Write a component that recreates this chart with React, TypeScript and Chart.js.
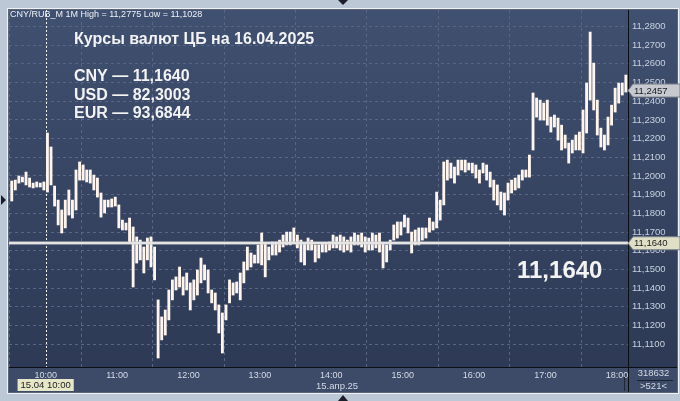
import React, { useEffect, useRef } from "react";
import { Chart, registerables } from "chart.js";

Chart.register(...registerables);

const FONT = "'Liberation Sans', Arial, sans-serif";

// 3-minute bars from 09:30 (minutes since midnight)
const START_MINUTE = 570;
const BAR_MINUTES = 3;

const HIGH = [
  11.1973, 11.1978, 11.2000, 11.1994, 11.2021, 11.1989, 11.1962, 11.1968, 11.1962, 11.1968,
  11.2230, 11.2155, 11.1946, 11.1871, 11.1818, 11.1871, 11.1925, 11.1871, 11.2032, 11.2075,
  11.2059, 11.2032, 11.2032, 11.2005, 11.1989, 11.1909, 11.1871, 11.1871, 11.1877, 11.1887,
  11.1845, 11.1764, 11.1748, 11.1775, 11.1727, 11.1674, 11.1657, 11.1620, 11.1668, 11.1674,
  11.1620, 11.1337, 11.1246, 11.1283, 11.1390, 11.1444, 11.1460, 11.1513, 11.1460, 11.1481,
  11.1428, 11.1444, 11.1497, 11.1561, 11.1524, 11.1497, 11.1390, 11.1374, 11.1310, 11.1267,
  11.1310, 11.1444, 11.1428, 11.1433, 11.1481, 11.1540, 11.1620, 11.1588, 11.1577, 11.1631,
  11.1695, 11.1641, 11.1620, 11.1647, 11.1647, 11.1657, 11.1684, 11.1700, 11.1700, 11.1722,
  11.1684, 11.1657, 11.1641, 11.1668, 11.1657, 11.1631, 11.1631, 11.1641, 11.1641, 11.1647,
  11.1684, 11.1674, 11.1684, 11.1674, 11.1657, 11.1674, 11.1695, 11.1684, 11.1695, 11.1674,
  11.1668, 11.1695, 11.1684, 11.1695, 11.1641, 11.1631, 11.1657, 11.1738, 11.1754, 11.1754,
  11.1791, 11.1775, 11.1700, 11.1711, 11.1722, 11.1722, 11.1722, 11.1775, 11.1754, 11.1914,
  11.1871, 11.2075, 11.2085, 11.2069, 11.2048, 11.2085, 11.2085, 11.2085, 11.2069, 11.2069,
  11.2059, 11.2032, 11.2069, 11.2059, 11.2021, 11.1978, 11.1952, 11.1914, 11.1909, 11.1962,
  11.1978, 11.1989, 11.2005, 11.2032, 11.2032, 11.2112, 11.2444, 11.2417, 11.2406, 11.2390,
  11.2406, 11.2315, 11.2326, 11.2310, 11.2272, 11.2219, 11.2176, 11.2192, 11.2219, 11.2235,
  11.2353, 11.2497, 11.2770, 11.2604, 11.2406, 11.2256, 11.2219, 11.2315, 11.2379, 11.2470,
  11.2497, 11.2497, 11.2540,
];

const LOW = [
  11.1866, 11.1925, 11.1962, 11.1968, 11.1952, 11.1941, 11.1936, 11.1941, 11.1941, 11.1925,
  11.1914, 11.1952, 11.1839, 11.1738, 11.1695, 11.1722, 11.1791, 11.1775, 11.1818, 11.1978,
  11.1978, 11.1968, 11.1962, 11.1925, 11.1887, 11.1780, 11.1802, 11.1834, 11.1834, 11.1839,
  11.1722, 11.1711, 11.1711, 11.1647, 11.1406, 11.1534, 11.1551, 11.1481, 11.1551, 11.1513,
  11.1444, 11.1026, 11.1123, 11.1149, 11.1230, 11.1337, 11.1390, 11.1406, 11.1363, 11.1390,
  11.1283, 11.1337, 11.1363, 11.1428, 11.1444, 11.1374, 11.1321, 11.1283, 11.1160, 11.1053,
  11.1230, 11.1321, 11.1363, 11.1374, 11.1337, 11.1428, 11.1497, 11.1513, 11.1534, 11.1534,
  11.1524, 11.1460, 11.1551, 11.1577, 11.1577, 11.1593, 11.1620, 11.1631, 11.1631, 11.1647,
  11.1615, 11.1540, 11.1524, 11.1604, 11.1604, 11.1540, 11.1561, 11.1593, 11.1593, 11.1604,
  11.1615, 11.1615, 11.1604, 11.1593, 11.1604, 11.1593, 11.1631, 11.1631, 11.1620, 11.1593,
  11.1604, 11.1604, 11.1615, 11.1593, 11.1508, 11.1540, 11.1604, 11.1657, 11.1668, 11.1684,
  11.1727, 11.1695, 11.1588, 11.1631, 11.1631, 11.1657, 11.1668, 11.1700, 11.1711, 11.1722,
  11.1764, 11.1845, 11.1978, 11.1989, 11.1962, 11.2005, 11.2032, 11.2021, 11.2032, 11.2016,
  11.1989, 11.1962, 11.2016, 11.1978, 11.1941, 11.1871, 11.1845, 11.1818, 11.1791, 11.1871,
  11.1909, 11.1925, 11.1936, 11.1978, 11.1994, 11.1994, 11.2139, 11.2315, 11.2299, 11.2299,
  11.2272, 11.2235, 11.2262, 11.2192, 11.2139, 11.2149, 11.2069, 11.2123, 11.2139, 11.2139,
  11.2123, 11.2230, 11.2406, 11.2353, 11.2219, 11.2155, 11.2139, 11.2166, 11.2272, 11.2342,
  11.2390, 11.2433, 11.2449,
];

const HOUR_TICKS = [600, 660, 720, 780, 840, 900, 960, 1020, 1080];
const PRICE_TICKS = [
  11.11, 11.12, 11.13, 11.14, 11.15, 11.16, 11.17, 11.18, 11.19,
  11.2, 11.21, 11.22, 11.23, 11.24, 11.25, 11.26, 11.27, 11.28,
];
const VIEW_MIN = 569.2;
const VIEW_MAX = 1089.3;
const Y_MIN = 11.0978;
const Y_MAX = 11.2888;
const CURSOR_MINUTE = 600;
const CB_RATE = 11.164;
const LAST_PRICE = 11.2457;

const HEADER = "CNY/RUB_M 1M High = 11,2775 Low = 11,1028";
const TITLE = "Курсы валют ЦБ на 16.04.2025";
const RATE_LINES = ["CNY — 11,1640", "USD — 82,3003", "EUR — 93,6844"];
const BIG_LABEL = "11,1640";
const CURSOR_LABEL = "15.04 10:00";
const DATE_LABEL = "15.апр.25";
const COUNT_TOP = "318632";
const COUNT_BOTTOM = ">521<";

const fmtPrice = (v: number) => v.toFixed(4).replace(".", ",");

function priceTag(ctx: CanvasRenderingContext2D, x0: number, x1: number, yc: number, text: string, fill: string) {
  const h = 13;
  ctx.beginPath();
  ctx.moveTo(x0, yc);
  ctx.lineTo(x0 + 5, yc - h / 2);
  ctx.lineTo(x1, yc - h / 2);
  ctx.lineTo(x1, yc + h / 2);
  ctx.lineTo(x0 + 5, yc + h / 2);
  ctx.closePath();
  ctx.fillStyle = fill;
  ctx.fill();
  ctx.strokeStyle = "#7a808a";
  ctx.lineWidth = 1;
  ctx.stroke();
  ctx.fillStyle = "#1c1c1c";
  ctx.font = `9.5px ${FONT}`;
  ctx.textAlign = "left";
  ctx.textBaseline = "middle";
  ctx.fillText(text, x0 + 6, yc + 0.5);
}

const framePlugin = {
  id: "frame",
  beforeDraw(chart: any) {
    const { ctx, chartArea: a, width, height } = chart;
    const xs = chart.scales.x;
    const ys = chart.scales.y;
    ctx.save();
    ctx.fillStyle = "#bdc8d6";
    ctx.fillRect(0, 0, width, height);
    const left = a.left;
    const right = ys.right;
    const top = a.top;
    const bottom = xs.bottom;
    const g = ctx.createLinearGradient(0, top, 0, bottom);
    g.addColorStop(0, "#405070");
    g.addColorStop(1, "#2c3853");
    ctx.fillStyle = g;
    ctx.fillRect(left, top, right - left, bottom - top);
    ctx.fillStyle = "#3d4b68";
    ctx.fillRect(left, xs.top, right - left, bottom - xs.top);
    ctx.strokeStyle = "#5c6676";
    ctx.lineWidth = 1;
    ctx.strokeRect(left - 0.5, top - 0.5, right - left + 1, bottom - top + 1);
    ctx.strokeStyle = "#eef2f7";
    ctx.strokeRect(left - 1.5, top - 1.5, right - left + 3, bottom - top + 3);
    // small triangles on the frame
    ctx.fillStyle = "#1a1f2a";
    const ty = 200;
    ctx.beginPath();
    ctx.moveTo(1, ty - 5);
    ctx.lineTo(6, ty);
    ctx.lineTo(1, ty + 5);
    ctx.fill();
    ctx.beginPath();
    ctx.moveTo(338, 0);
    ctx.lineTo(348, 0);
    ctx.lineTo(343, 5);
    ctx.fill();
    ctx.beginPath();
    ctx.moveTo(338, 401);
    ctx.lineTo(348, 401);
    ctx.lineTo(343, 395);
    ctx.fill();
    ctx.restore();
  },
  afterDatasetsDraw(chart: any) {
    const { ctx, chartArea: a } = chart;
    const xs = chart.scales.x;
    const ys = chart.scales.y;
    ctx.save();
    // cursor line at 10:00
    const cx = Math.round(xs.getPixelForValue(CURSOR_MINUTE)) + 0.5;
    ctx.strokeStyle = "#f2f2f2";
    ctx.setLineDash([2, 2]);
    ctx.lineWidth = 1;
    ctx.beginPath();
    ctx.moveTo(cx, a.top);
    ctx.lineTo(cx, a.bottom);
    ctx.stroke();
    ctx.setLineDash([]);
    // CB rate line
    const ry = Math.round(ys.getPixelForValue(CB_RATE));
    ctx.fillStyle = "#c9c9c9";
    ctx.fillRect(a.left, ry - 1.5, a.right - a.left, 3);
    ctx.fillStyle = "#ffffff";
    ctx.fillRect(a.left, ry - 0.5, a.right - a.left, 1);
    ctx.restore();
  },
  afterDraw(chart: any) {
    const { ctx, chartArea: a } = chart;
    const xs = chart.scales.x;
    const ys = chart.scales.y;
    ctx.save();
    // separating axis lines
    ctx.strokeStyle = "#0b0e14";
    ctx.lineWidth = 1;
    ctx.beginPath();
    ctx.moveTo(Math.round(a.right) + 0.5, a.top);
    ctx.lineTo(Math.round(a.right) + 0.5, xs.bottom);
    ctx.moveTo(a.left, Math.round(a.bottom) + 0.5);
    ctx.lineTo(ys.right, Math.round(a.bottom) + 0.5);
    ctx.stroke();
    ctx.strokeStyle = "#1e2636";
    ctx.beginPath();
    ctx.moveTo(Math.round(a.right) - 3.5, xs.top + 10);
    ctx.lineTo(Math.round(a.right) - 3.5, xs.bottom - 1);
    ctx.stroke();

    // header and captions
    ctx.textAlign = "left";
    ctx.textBaseline = "middle";
    ctx.fillStyle = "#eef1f6";
    ctx.font = `9px ${FONT}`;
    ctx.fillText(HEADER, a.left + 1, a.top + 5);

    ctx.fillStyle = "#f3f3f3";
    ctx.font = `bold 16px ${FONT}`;
    ctx.fillText(TITLE, 74, 40);
    const rows = [77, 96, 114];
    RATE_LINES.forEach((t, i) => ctx.fillText(t, 74, rows[i]));

    ctx.font = `bold 24px ${FONT}`;
    ctx.fillText(BIG_LABEL, 517, 271);

    // price tags on the right axis
    priceTag(ctx, a.right, ys.right + 3, ys.getPixelForValue(LAST_PRICE), fmtPrice(LAST_PRICE), "#c6cad0");
    priceTag(ctx, a.right, ys.right + 3, ys.getPixelForValue(CB_RATE), fmtPrice(CB_RATE), "#dedfc6");

    // cursor date box
    const cx = xs.getPixelForValue(CURSOR_MINUTE);
    ctx.font = `9.5px ${FONT}`;
    const w = ctx.measureText(CURSOR_LABEL).width + 6;
    ctx.fillStyle = "#e6e6c8";
    ctx.fillRect(cx - w / 2, 379, w, 12);
    ctx.fillStyle = "#1c1c1c";
    ctx.textAlign = "center";
    ctx.fillText(CURSOR_LABEL, cx, 385.5);

    ctx.fillStyle = "#d3d9e5";
    ctx.textAlign = "left";
    ctx.fillText(DATE_LABEL, 316, 386);

    // counters in the bottom right corner
    const mid = (a.right + ys.right) / 2 + 1;
    ctx.textAlign = "center";
    ctx.fillText(COUNT_TOP, mid, 373);
    ctx.fillText(COUNT_BOTTOM, mid, 386);
    ctx.strokeStyle = "#1b2230";
    ctx.beginPath();
    ctx.moveTo(a.right + 9, 380.5);
    ctx.lineTo(ys.right - 4, 380.5);
    ctx.stroke();
    ctx.restore();
  },
};

export default function App() {
  const ref = useRef<HTMLCanvasElement>(null);

  useEffect(() => {
    document.body.style.margin = "0";
    const canvas = ref.current!;
    const data = HIGH.map((h, i) => ({
      x: START_MINUTE + i * BAR_MINUTES + BAR_MINUTES / 2,
      y: [LOW[i], h],
    }));
    const gridColor = "#586683";
    const chart = new Chart(canvas, {
      type: "bar",
      data: {
        datasets: [
          {
            data: data as any,
            backgroundColor: "#fff5ef",
            borderWidth: 0,
            barThickness: 2.2,
          },
        ],
      },
      options: {
        animation: false,
        responsive: false,
        devicePixelRatio: 1,
        layout: { padding: { left: 9, top: 10, right: 3, bottom: 9 } },
        plugins: { legend: { display: false }, tooltip: { enabled: false } },
        scales: {
          x: {
            type: "linear",
            min: VIEW_MIN,
            max: VIEW_MAX,
            offset: false,
            afterBuildTicks: (s: any) => {
              s.ticks = HOUR_TICKS.map((v) => ({ value: v }));
            },
            afterFit: (s: any) => {
              s.height = 25;
            },
            ticks: {
              color: "#d6dce8",
              font: { family: FONT, size: 9 },
              padding: 3,
              maxRotation: 0,
              autoSkip: false,
              callback: (v: any) => `${String(Math.floor(Number(v) / 60)).padStart(2, "0")}:00`,
            },
            grid: { color: gridColor, drawTicks: false },
            border: { display: false, dash: [3, 3] },
          },
          y: {
            position: "right",
            min: Y_MIN,
            max: Y_MAX,
            afterBuildTicks: (s: any) => {
              s.ticks = PRICE_TICKS.map((v) => ({ value: v }));
            },
            afterFit: (s: any) => {
              s.width = 49;
            },
            ticks: {
              color: "#c9d1df",
              font: { family: FONT, size: 9.5 },
              padding: 4,
              autoSkip: false,
              callback: (v: any) => fmtPrice(Number(v)),
            },
            grid: { color: gridColor, drawTicks: false },
            border: { display: false, dash: [3, 3] },
          },
        },
      } as any,
      plugins: [framePlugin],
    });
    return () => chart.destroy();
  }, []);

  return <canvas ref={ref} width={680} height={401} style={{ display: "block" }} />;
}
